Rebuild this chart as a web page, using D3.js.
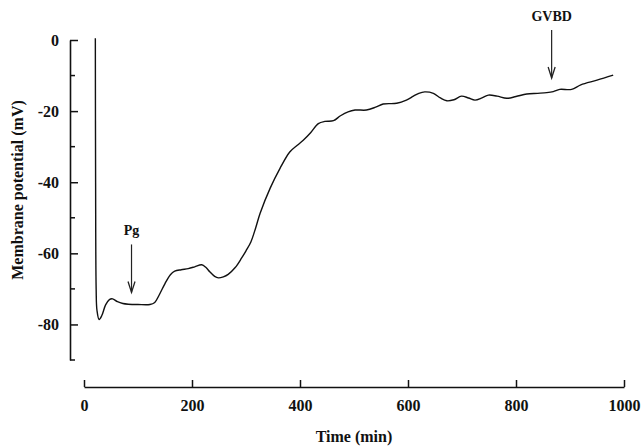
<!DOCTYPE html>
<html>
<head>
<meta charset="utf-8">
<script src="https://cdn.jsdelivr.net/npm/d3@7"></script>
<style>
  html, body { margin: 0; padding: 0; background: #fff; }
  svg { display: block; }
  text { font-family: "Liberation Serif", "Times New Roman", serif; font-weight: bold; fill: #111; }
</style>
</head>
<body>
<svg id="chart" width="641" height="448"></svg>
<script>
// ---- data ----
const timeMin = [21, 21.5, 22.5, 24, 28, 33, 40, 47, 53, 62, 72, 82, 100, 122, 131, 140, 150, 160, 168, 180,
  193, 205, 218, 226, 233, 242, 249, 258, 267, 280, 292, 300, 309, 318, 326, 345, 363, 381, 395, 406,
  420, 434, 446, 462, 475, 489, 502, 523, 540, 554, 579, 597, 610, 620, 631, 647, 660, 672, 685, 699,
  712, 724, 737, 749, 765, 783, 800, 820, 840, 857, 869, 881, 903, 920, 950, 980];
const potentialMV = [0.5, -40, -70, -76, -78.6, -77.5, -74.5, -73, -72.8, -73.6, -74.1, -74.3, -74.4, -74.4, -73.8, -71.5, -68.5, -66, -65, -64.6,
  -64.3, -63.8, -63.2, -64, -65.2, -66.5, -66.9, -66.6, -65.9, -64, -61.3, -59.3, -56.8, -52.8, -48.8, -41.6, -36.1, -31.5, -29.6, -28.2,
  -26, -23.5, -22.9, -22.7, -21.3, -20.2, -19.7, -19.7, -18.9, -18, -17.8, -16.9, -15.8, -15, -14.6, -15, -16.3, -17.1, -16.8, -15.8,
  -16.3, -16.9, -16.3, -15.5, -15.8, -16.4, -15.9, -15.2, -15, -14.8, -14.5, -13.9, -13.9, -12.6, -11.3, -9.9];
const xTicks = [0, 200, 400, 600, 800, 1000];
const yMajorTicks = [0, -20, -40, -60, -80];
const yMinorTicks = [-10, -30, -50, -70, -90];
const annotLabels = ["Pg", "GVBD"];
const annotTimes = [88, 866];
const annotTipMV = [-71, -10.7];
const xTitle = "Time (min)";
const yTitle = "Membrane potential (mV)";

// ---- layout ----
const svg = d3.select("#chart");
const x = d3.scaleLinear().domain([0, 1000]).range([84, 624]);
const y = d3.scaleLinear().domain([-90, 0]).range([360, 40]);
const xAxisY = 387;
const yAxisX = 70;
const fmt = d => String(d);

// y axis
const yAxisG = svg.append("g").attr("transform", `translate(${yAxisX},0)`)
  .call(d3.axisLeft(y).tickValues(yMajorTicks).tickFormat(fmt)
    .tickSizeInner(-8).tickSizeOuter(0).tickPadding(11));
yAxisG.select(".domain").attr("stroke", "#111").attr("stroke-width", 1.6);
yAxisG.selectAll(".tick line").attr("stroke", "#111").attr("stroke-width", 1.5);
yAxisG.selectAll(".tick text").attr("font-size", 16).attr("font-family", "Liberation Serif").attr("font-weight", "bold").attr("fill", "#111");
// minor ticks
svg.append("g").selectAll("line").data(yMinorTicks).join("line")
  .attr("x1", yAxisX).attr("x2", yAxisX + 5)
  .attr("y1", d => y(d)).attr("y2", d => y(d))
  .attr("stroke", "#111").attr("stroke-width", 1.5);

// x axis
const xAxisG = svg.append("g").attr("transform", `translate(0,${xAxisY})`)
  .call(d3.axisBottom(x).tickValues(xTicks).tickFormat(fmt)
    .tickSizeInner(-7).tickSizeOuter(0).tickPadding(13));
xAxisG.select(".domain").attr("stroke", "#111").attr("stroke-width", 1.6);
xAxisG.selectAll(".tick line").attr("stroke", "#111").attr("stroke-width", 1.5);
xAxisG.selectAll(".tick text").attr("font-size", 16).attr("font-family", "Liberation Serif").attr("font-weight", "bold").attr("fill", "#111");

// titles
svg.append("text").attr("x", (x.range()[0] + x.range()[1]) / 2).attr("y", 442)
  .attr("text-anchor", "middle").attr("font-size", 16).text(xTitle);
svg.append("text").attr("transform", `translate(23,${(y.range()[0] + y.range()[1]) / 2 - 10}) rotate(-90)`)
  .attr("text-anchor", "middle").attr("font-size", 16).text(yTitle);

// curve
const pts = timeMin.map((t, i) => [t, potentialMV[i]]);
svg.append("path").datum(pts)
  .attr("fill", "none").attr("stroke", "#111").attr("stroke-width", 1.4)
  .attr("stroke-linejoin", "round")
  .attr("d", d3.line().x(d => x(d[0])).y(d => y(d[1])).curve(d3.curveCatmullRom.alpha(0.5)));

// annotations
annotLabels.forEach((lab, i) => {
  const ax = x(annotTimes[i]);
  const tip = y(annotTipMV[i]);
  const top = tip - 48;
  const g = svg.append("g");
  g.append("line").attr("x1", ax).attr("x2", ax).attr("y1", top).attr("y2", tip)
    .attr("stroke", "#222").attr("stroke-width", 1.2);
  g.append("path").attr("d", `M${ax - 3.5},${tip - 11} L${ax},${tip} L${ax + 3.5},${tip - 11}`)
    .attr("fill", "none").attr("stroke", "#222").attr("stroke-width", 1.3);
  g.append("text").attr("x", ax).attr("y", top - 9).attr("text-anchor", "middle")
    .attr("font-size", 14).text(lab);
});
</script>
</body>
</html>
